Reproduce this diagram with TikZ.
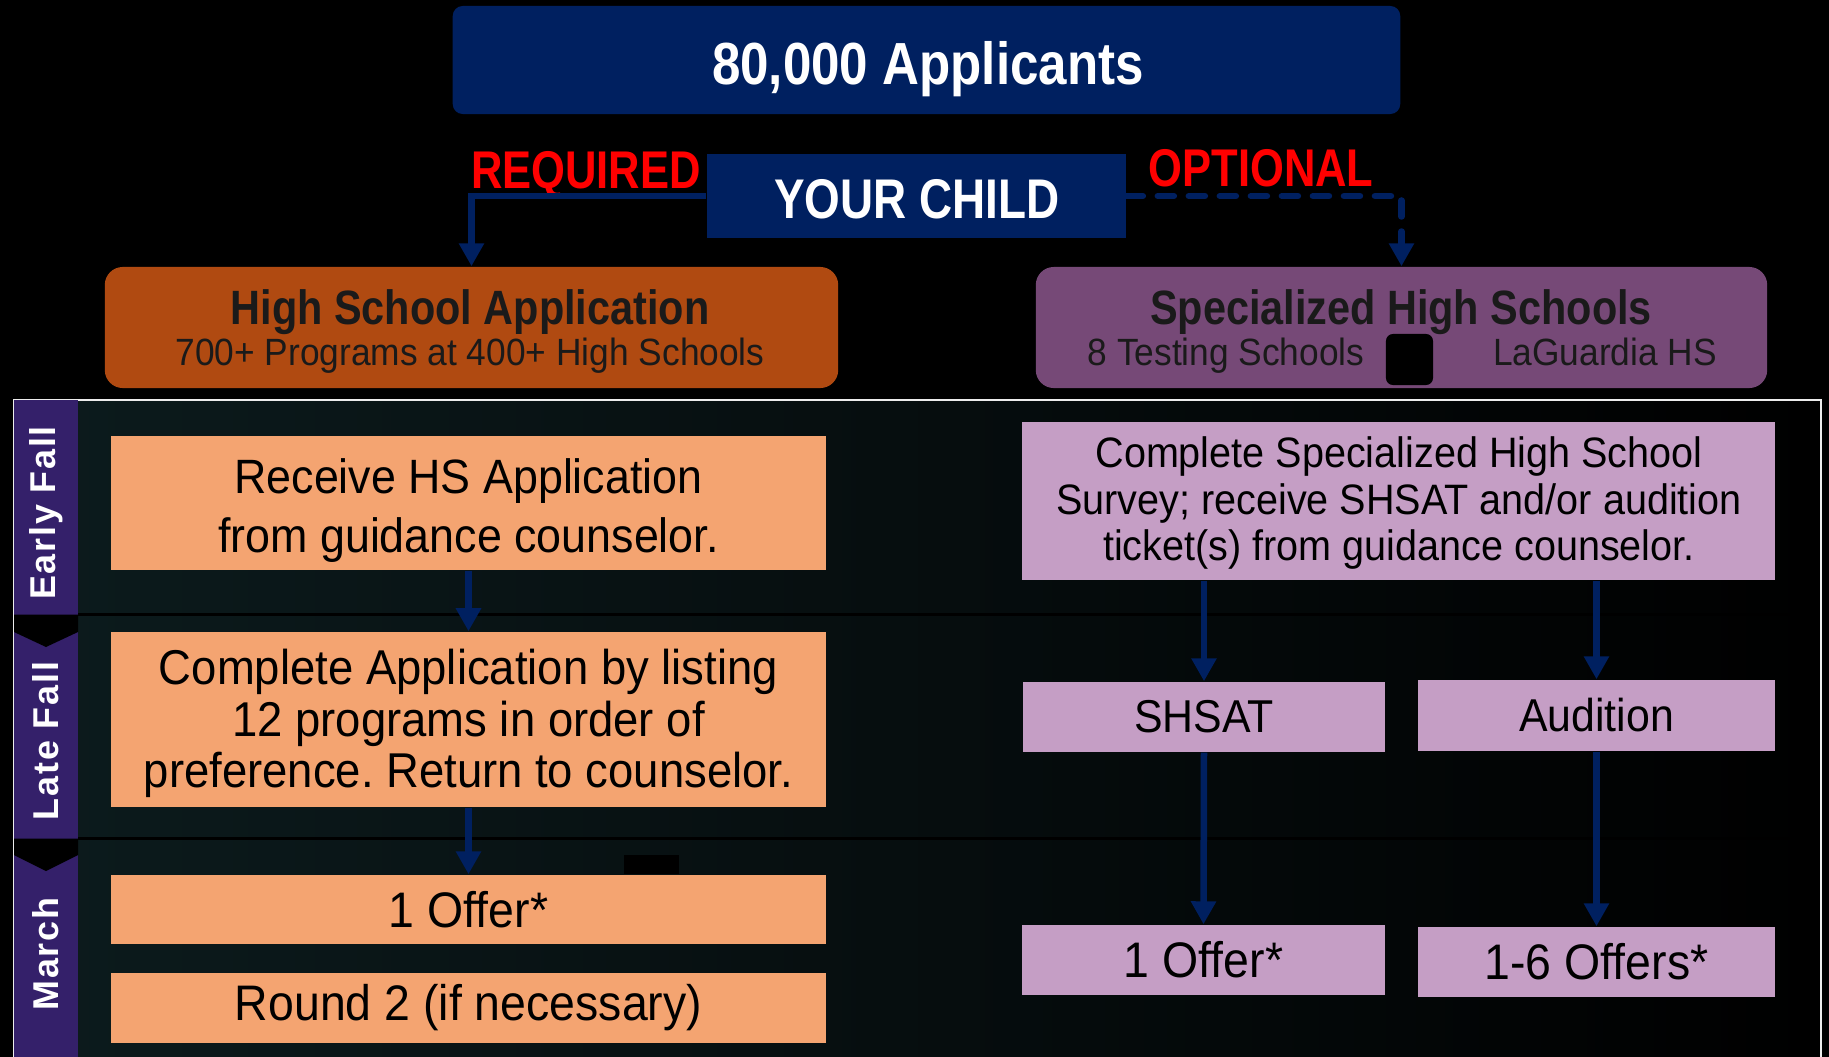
\documentclass[tikz,border=0pt]{standalone}
\usepackage{fontspec}
\setmainfont{Liberation Sans}
\newfontfamily\fA{Liberation Sans}[FakeStretch=0.93]
\newfontfamily\fB{Liberation Sans}[FakeStretch=0.86]
\newfontfamily\fC{Liberation Sans}[FakeStretch=0.82]
\newfontfamily\fD{Liberation Sans}[LetterSpace=5]
\usetikzlibrary{arrows.meta}
\definecolor{navy}{RGB}{0,32,96}
\definecolor{orangebox}{RGB}{244,164,113}
\definecolor{hsbrown}{RGB}{176,74,17}
\definecolor{specpurple}{RGB}{118,73,119}
\definecolor{lilac}{RGB}{197,158,197}
\definecolor{sidebar}{RGB}{52,32,106}
\definecolor{tealdk}{RGB}{12,27,29}
\definecolor{titletext}{RGB}{26,26,26}
\frenchspacing
\tikzset{
  box/.style={draw=none, inner sep=0pt, align=center, text=black},
  obox/.style={box, fill=orangebox},
  pbox/.style={box, fill=lilac},
  txt/.style={inner sep=0pt, align=center, text=black},
  recvtxt/.style={txt, font=\fA\fontsize{13.7pt}{16.6pt}\selectfont},
  compltxt/.style={txt, font=\fA\fontsize{13.9pt}{14.6pt}\selectfont},
  smalltxt/.style={txt, font=\fA\fontsize{12.1pt}{13.1pt}\selectfont},
  offertxt/.style={font=\fA\fontsize{14.2pt}{15pt}\selectfont},
  headtxt/.style={font=\fB\bfseries\fontsize{13.7pt}{14pt}\selectfont, text=titletext, inner sep=0pt, anchor=base},
  subtxt/.style={font=\fA\fontsize{10.8pt}{12pt}\selectfont, text=titletext, inner sep=0pt, anchor=base},
  sidetxt/.style={font=\fD\bfseries\fontsize{10.2pt}{12pt}\selectfont, text=white, rotate=90, inner sep=0pt},
  redtxt/.style={inner sep=0pt, text=red, anchor=base, font=\fC\bfseries\fontsize{15.1pt}{16pt}\selectfont},
  arr/.style={draw=navy, line width=0.065cm, -{Triangle[width=0.24cm,length=0.23cm]}},
  dasharr/.style={arr, line cap=round, dash pattern=on 0.16cm off 0.15cm},
}
\begin{document}
\begin{tikzpicture}[x=0.01cm, y=-0.01cm]
\useasboundingbox (0,0) rectangle (1829,1057);
% background
\fill[black] (0,0) rectangle (1829,1057);
\shade[left color=tealdk, middle color=black, right color=black] (14,400) rectangle (1821,1057);
% row separators
\draw[black, line width=0.03cm] (78,614.5) -- (1821,614.5);
\draw[black, line width=0.03cm] (78,838.5) -- (1821,838.5);
% frame
\draw[white!85!gray, line width=0.02cm] (14,1057) -- (14,400) -- (1821,400) -- (1821,1057);
% sidebar
\fill[sidebar] (14,400) rectangle (78,1057);
\fill[black] (14,614.5) -- (78,614.5) -- (78,632) -- (46,647) -- (14,632) -- cycle;
\fill[black] (14,838.5) -- (78,838.5) -- (78,855) -- (46,871) -- (14,855) -- cycle;
\node[sidetxt] (early) at (46,513) {Early Fall};
\node[sidetxt] (late) at (46,741) {Late Fall};
\node[sidetxt] (march) at (46,954) {March};

% top boxes
\node[box, fill=navy, rounded corners=0.1cm, minimum width=9.47cm, minimum height=1.08cm] (top) at (926.5,60) {};
\node[inner sep=0pt, anchor=base, text=white, font=\fB\bfseries\fontsize{16.9pt}{18pt}\selectfont] (topT) at (928,84) {80,000 Applicants};
\node[box, fill=navy, minimum width=4.19cm, minimum height=0.84cm] (child) at (916.5,196) {};
\node[inner sep=0pt, anchor=base, text=white, font=\fC\bfseries\fontsize{15.9pt}{17pt}\selectfont] (childT) at (917,218) {YOUR CHILD};
\node[redtxt] (req) at (586,188) {REQUIRED};
\node[redtxt] (opt) at (1261,186) {OPTIONAL};

% header boxes
\node[box, fill=hsbrown, rounded corners=0.18cm, minimum width=7.33cm, minimum height=1.21cm] (hsapp) at (471.5,327.5) {};
\node[headtxt] (hstitle) at (470,324) {High School Application};
\node[subtxt] (hssub) at (470,365) {700+ Programs at 400+ High Schools};
\node[box, fill=specpurple, rounded corners=0.18cm, minimum width=7.31cm, minimum height=1.21cm] (spec) at (1401.5,327.5) {};
\node[headtxt] (spectitle) at (1401,324) {Specialized High Schools};
\node[subtxt] (specsubA) at (1226,365) {8 Testing Schools};
\node[subtxt] (specsubB) at (1605,365) {LaGuardia HS};
\node[box, fill=black, rounded corners=0.07cm, minimum width=0.47cm, minimum height=0.51cm] (blackchip) at (1409.5,359.5) {};

% left column
\node[obox, minimum width=7.15cm, minimum height=1.34cm] (recv) at (468.5,503) {};
\node[recvtxt] (recvT) at (468.5,510.5) {Receive HS Application\\from guidance counselor.};
\node[obox, minimum width=7.15cm, minimum height=1.75cm] (compl) at (468.5,719.5) {};
\node[compltxt] (complT) at (468.5,723.5) {Complete Application by listing\\12 programs in order of\\preference. Return to counselor.};
\node[box, fill=black, minimum width=0.55cm, minimum height=0.19cm] (chipL) at (651.5,864) {};
\node[obox, offertxt, minimum width=7.15cm, minimum height=0.69cm] (offerL) at (468.5,909.5) {1 Offer*};
\node[obox, offertxt, minimum width=7.15cm, minimum height=0.70cm] (round2) at (468.5,1008) {Round 2 (if necessary)};

% right column
\node[pbox, minimum width=7.53cm, minimum height=1.58cm] (survey) at (1398.5,501) {};
\node[smalltxt] (surveyT) at (1399,503) {Complete Specialized High School\\Survey; receive SHSAT and/or audition\\ticket(s) from guidance counselor.};
\node[pbox, font=\fA\fontsize{13.1pt}{14pt}\selectfont, minimum width=3.62cm, minimum height=0.70cm] (shsat) at (1204,717) {SHSAT};
\node[pbox, font=\fA\fontsize{13.1pt}{14pt}\selectfont, minimum width=3.57cm, minimum height=0.71cm] (audition) at (1596.5,715.5) {Audition};
\node[pbox, offertxt, minimum width=3.63cm, minimum height=0.70cm] (offerR) at (1203.5,960) {1 Offer*};
\node[pbox, offertxt, minimum width=3.57cm, minimum height=0.70cm] (offers) at (1596.5,962) {1-6 Offers*};

% connectors
\draw[arr] (child.west) -| (hsapp.north);
\draw[dasharr] (child.east) -| (spec.north);
\draw[arr] (recv.south) -- (compl.north);
\draw[arr] (compl.south) -- (offerL.north);
\draw[arr] (survey.south -| shsat.north) -- (shsat.north);
\draw[arr] (survey.south -| audition.north) -- (audition.north);
\draw[arr] (shsat.south) -- (offerR.north);
\draw[arr] (audition.south) -- (offers.north);
\end{tikzpicture}
\end{document}
